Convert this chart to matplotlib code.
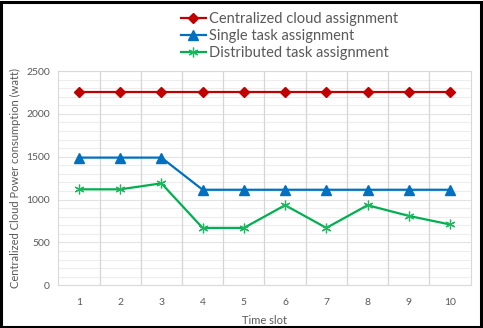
import numpy as np
import matplotlib.pyplot as plt
from matplotlib.patches import Rectangle

# data
time_slots = [1, 2, 3, 4, 5, 6, 7, 8, 9, 10]
centralized = [2250, 2250, 2250, 2250, 2250, 2250, 2250, 2250, 2250, 2250]
single_task = [1490, 1490, 1490, 1115, 1115, 1115, 1115, 1115, 1115, 1115]
distributed = [1120, 1120, 1190, 670, 670, 935, 670, 935, 810, 710]

plt.rcParams['font.family'] = ['Lato', 'DejaVu Sans']

fig = plt.figure(figsize=(4.83, 3.28), dpi=100)
ax = fig.add_axes([0.1207, 0.130, 0.8538, 0.6535])

x = np.arange(len(time_slots))
ax.plot(x, centralized, color='#C00000', lw=1.6, marker='D', ms=5.5,
        label='Centralized cloud assignment', zorder=4)
ax.plot(x, single_task, color='#0070C0', lw=1.6, marker='^', ms=7,
        label='Single task assignment', zorder=4)
ax.plot(x, distributed, color='#00B050', lw=1.6, marker=(6, 2, 0), ms=7,
        mew=0.9, mec='#1FB860', label='Distributed task assignment', zorder=4)

ax.set_xlim(-0.5, len(time_slots) - 0.5)
ax.set_ylim(0, 2500)
ax.set_xticks(x)
ax.set_xticklabels([str(t) for t in time_slots])
ax.set_yticks(np.arange(0, 2501, 500))
ax.set_yticks(np.arange(0, 2501, 100), minor=True)

# gridlines like the spreadsheet chart
ax.grid(axis='y', which='minor', color='#EDEDED', lw=0.8)
ax.grid(axis='y', which='major', color='#E3E3E3', lw=0.8)
for b in np.arange(0.5, len(time_slots) - 0.5):
    ax.axvline(b, color='#D6D6D6', lw=0.9, zorder=1)
ax.set_axisbelow(True)

for s in ax.spines.values():
    s.set_color('#D9D9D9')
    s.set_linewidth(0.8)
ax.tick_params(axis='both', which='both', length=0, colors='#595959', labelsize=7.5)
ax.tick_params(axis='x', pad=9)
ax.tick_params(axis='y', pad=6)

ax.set_xlabel('Time slot', color='#595959', fontsize=8, labelpad=6)
ax.set_ylabel('Centralized Cloud Power consumption (watt)', color='#595959',
              fontsize=8, labelpad=4)

fig.legend(loc='upper left', bbox_to_anchor=(0.362, 0.98), frameon=False,
           fontsize=10.5, handlelength=1.75, handletextpad=0.2, labelspacing=0.18,
           labelcolor='#595959', borderaxespad=0)

# black outer border
fig.patches.append(Rectangle((0.003, 0.004), 0.992, 0.99, transform=fig.transFigure,
                             fill=False, edgecolor='black', lw=2.2))

fig.savefig('out.png', dpi=100)
